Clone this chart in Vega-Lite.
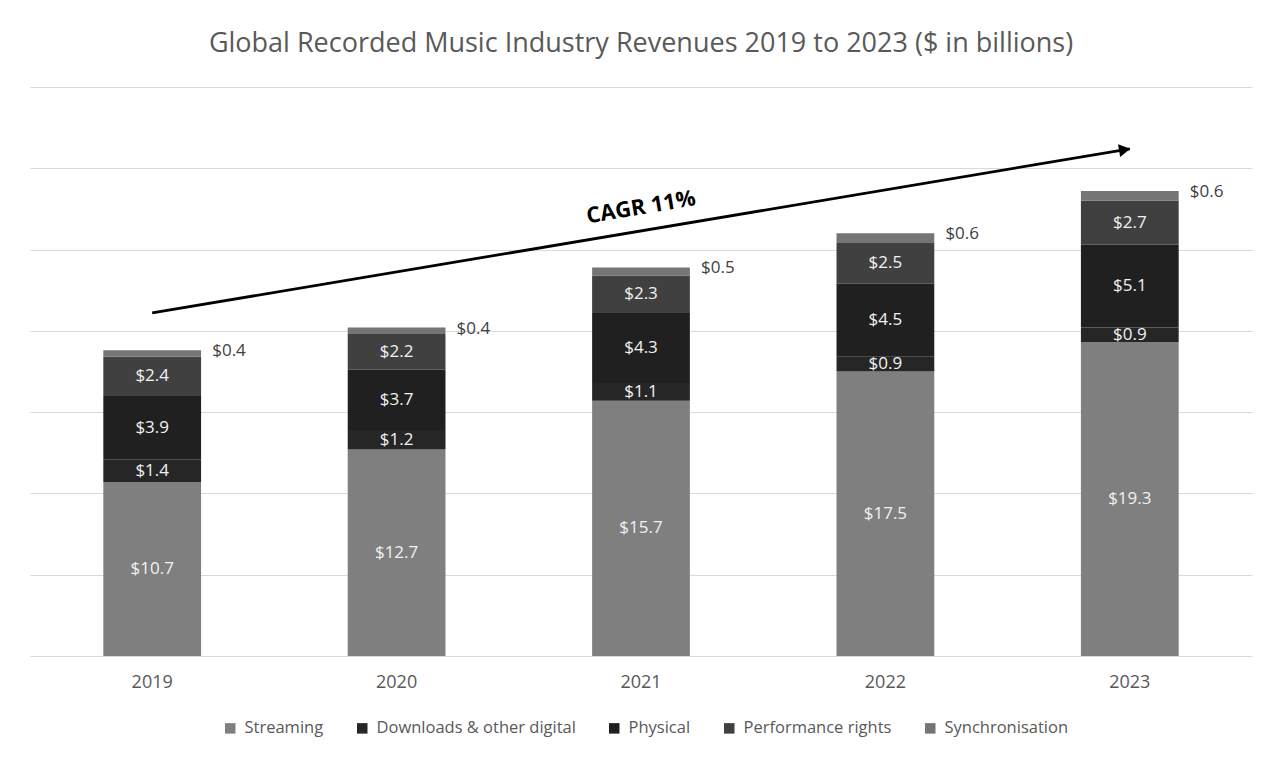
{
  "$schema": "https://vega.github.io/schema/vega-lite/v6.json",
  "autosize": {"type": "none"},
  "width": 1222,
  "height": 569,
  "padding": {"left": 30, "top": 87, "right": 26, "bottom": 103},
  "background": "white",
  "title": {
    "text": "Global Recorded Music Industry Revenues 2019 to 2023 ($ in billions)",
    "font": "Open Sans",
    "fontSize": 27,
    "fontWeight": "normal",
    "color": "#595959",
    "anchor": "middle",
    "frame": "group",
    "baseline": "alphabetic",
    "offset": 8
  },
  "config": {
    "view": {"stroke": null},
    "font": "Open Sans"
  },
  "datasets": {
    "rev": [
      {"year": "2019", "category": "Streaming", "order": 1, "value": 10.7},
      {"year": "2019", "category": "Downloads & other digital", "order": 2, "value": 1.4},
      {"year": "2019", "category": "Physical", "order": 3, "value": 3.9},
      {"year": "2019", "category": "Performance rights", "order": 4, "value": 2.4},
      {"year": "2019", "category": "Synchronisation", "order": 5, "value": 0.4},
      {"year": "2020", "category": "Streaming", "order": 1, "value": 12.7},
      {"year": "2020", "category": "Downloads & other digital", "order": 2, "value": 1.2},
      {"year": "2020", "category": "Physical", "order": 3, "value": 3.7},
      {"year": "2020", "category": "Performance rights", "order": 4, "value": 2.2},
      {"year": "2020", "category": "Synchronisation", "order": 5, "value": 0.4},
      {"year": "2021", "category": "Streaming", "order": 1, "value": 15.7},
      {"year": "2021", "category": "Downloads & other digital", "order": 2, "value": 1.1},
      {"year": "2021", "category": "Physical", "order": 3, "value": 4.3},
      {"year": "2021", "category": "Performance rights", "order": 4, "value": 2.3},
      {"year": "2021", "category": "Synchronisation", "order": 5, "value": 0.5},
      {"year": "2022", "category": "Streaming", "order": 1, "value": 17.5},
      {"year": "2022", "category": "Downloads & other digital", "order": 2, "value": 0.9},
      {"year": "2022", "category": "Physical", "order": 3, "value": 4.5},
      {"year": "2022", "category": "Performance rights", "order": 4, "value": 2.5},
      {"year": "2022", "category": "Synchronisation", "order": 5, "value": 0.6},
      {"year": "2023", "category": "Streaming", "order": 1, "value": 19.3},
      {"year": "2023", "category": "Downloads & other digital", "order": 2, "value": 0.9},
      {"year": "2023", "category": "Physical", "order": 3, "value": 5.1},
      {"year": "2023", "category": "Performance rights", "order": 4, "value": 2.7},
      {"year": "2023", "category": "Synchronisation", "order": 5, "value": 0.6}
    ],
    "arrow": [
      {"x1": "2019", "x2": "2023", "y1": 21.1, "y2": 31.2}
    ],
    "note": [
      {"year": "2021", "y": 27.6, "label": "CAGR 11%"}
    ]
  },
  "encoding": {
    "x": {
      "field": "year",
      "type": "nominal",
      "scale": {"domain": ["2019", "2020", "2021", "2022", "2023"], "paddingInner": 0.6, "paddingOuter": 0.3},
      "axis": {
        "title": null,
        "labelAngle": 0,
        "ticks": false,
        "domain": false,
        "labelFont": "Open Sans",
        "labelFontSize": 18,
        "labelColor": "#595959",
        "labelPadding": 17
      }
    }
  },
  "layer": [
    {
      "data": {"name": "rev"},
      "mark": {"type": "bar"},
      "encoding": {
        "y": {
          "field": "value",
          "type": "quantitative",
          "stack": "zero",
          "scale": {"domain": [0, 35], "nice": false},
          "axis": {
            "title": null,
            "labels": false,
            "ticks": false,
            "domain": false,
            "values": [0, 5, 10, 15, 20, 25, 30, 35],
            "grid": true,
            "gridColor": "#d9d9d9",
            "gridWidth": 1
          }
        },
        "color": {
          "field": "category",
          "type": "nominal",
          "scale": {
            "domain": ["Streaming", "Downloads & other digital", "Physical", "Performance rights", "Synchronisation"],
            "range": ["#7f7f7f", "#262626", "#202020", "#404040", "#757575"]
          },
          "legend": {
            "title": null,
            "orient": "none",
            "direction": "horizontal",
            "legendX": 192,
            "legendY": 633,
            "symbolType": "square",
            "symbolSize": 110,
            "symbolStrokeWidth": 0,
            "labelFont": "Open Sans",
            "labelFontSize": 16.5,
            "labelColor": "#595959",
            "labelOffset": 6,
            "labelLimit": 0,
            "columnPadding": 30
          }
        },
        "order": {"field": "order", "type": "quantitative"}
      }
    },
    {
      "data": {"name": "rev"},
      "transform": [{"filter": "datum.order < 5"}],
      "mark": {"type": "text", "font": "Open Sans", "fontSize": 17, "color": "#f2f2f2", "baseline": "middle"},
      "encoding": {
        "y": {"field": "value", "type": "quantitative", "stack": "zero", "bandPosition": 0.5},
        "order": {"field": "order", "type": "quantitative"},
        "text": {"field": "value", "type": "quantitative", "format": "$.1f"}
      }
    },
    {
      "data": {"name": "rev"},
      "mark": {"type": "text", "font": "Open Sans", "fontSize": 17, "color": "#404040", "baseline": "middle", "align": "left", "dx": 60, "dy": 1},
      "encoding": {
        "y": {"field": "value", "type": "quantitative", "stack": "zero"},
        "order": {"field": "order", "type": "quantitative"},
        "text": {"condition": {"test": "datum.order == 5", "field": "value", "type": "quantitative", "format": "$.1f"}, "value": ""}
      }
    },
    {
      "data": {"name": "arrow"},
      "mark": {"type": "rule", "color": "black", "strokeWidth": 2.8},
      "encoding": {
        "x": {"field": "x1", "type": "nominal"},
        "x2": {"field": "x2"},
        "y": {"field": "y1", "type": "quantitative"},
        "y2": {"field": "y2"}
      }
    },
    {
      "data": {"name": "arrow"},
      "mark": {"type": "point", "shape": "triangle", "filled": true, "color": "black", "size": 170, "angle": 80.4, "opacity": 1, "xOffset": -7, "yOffset": 1.2},
      "encoding": {
        "x": {"field": "x2", "type": "nominal"},
        "y": {"field": "y2", "type": "quantitative"}
      }
    },
    {
      "data": {"name": "note"},
      "mark": {"type": "text", "font": "Open Sans", "fontWeight": "bold", "fontSize": 22, "color": "black", "angle": 350.4, "baseline": "middle", "align": "center"},
      "encoding": {
        "x": {"field": "year", "type": "nominal"},
        "y": {"field": "y", "type": "quantitative"},
        "text": {"field": "label"}
      }
    }
  ]
}
